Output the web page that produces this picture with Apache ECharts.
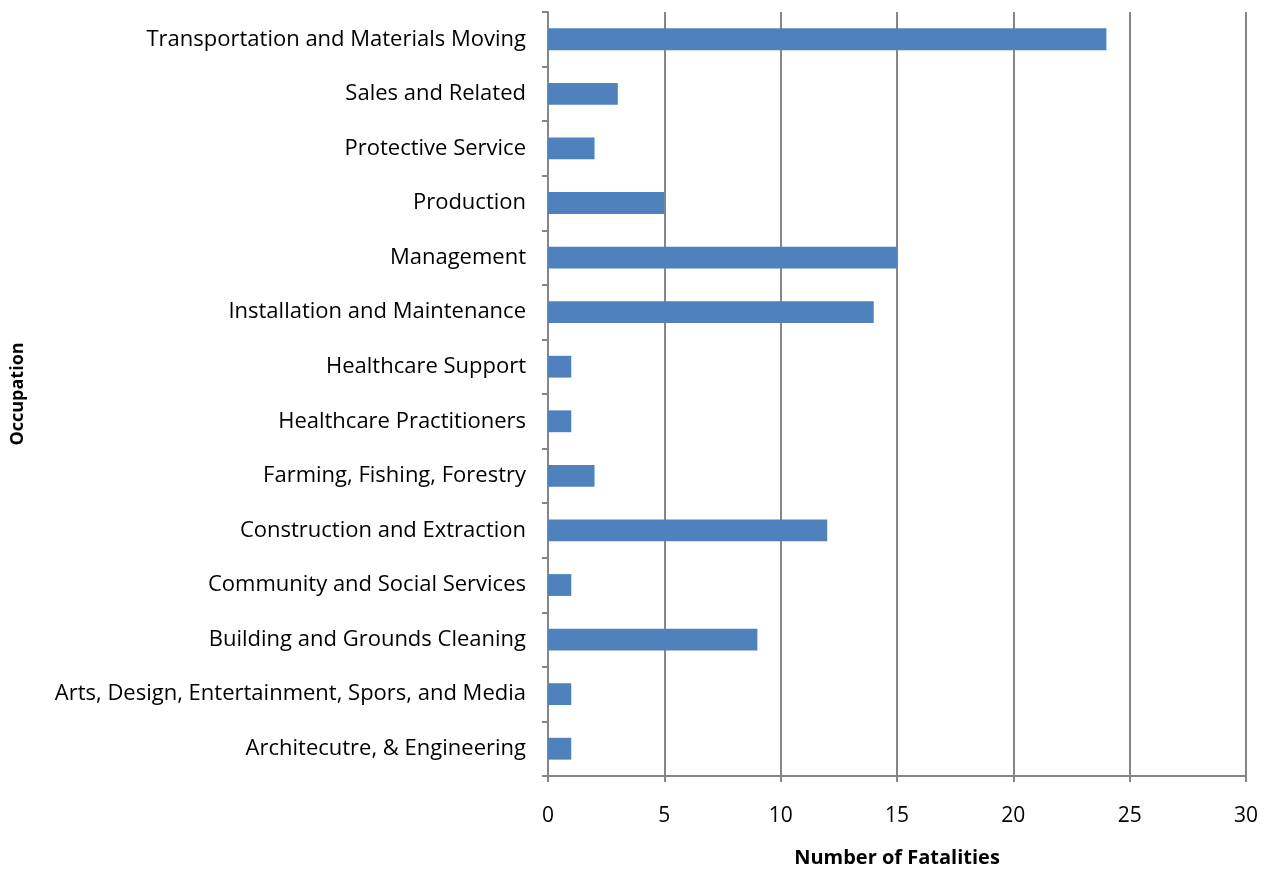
<!DOCTYPE html>
<html><head><meta charset="utf-8">
<script src="https://cdn.jsdelivr.net/npm/echarts@6/dist/echarts.min.js"></script>
<style>html,body{margin:0;padding:0;background:#fff}#c{width:1274px;height:871px}</style>
</head><body><div id="c"></div>
<script>
const categories = [
  "Architecutre, & Engineering",
  "Arts, Design, Entertainment, Spors, and Media",
  "Building and Grounds Cleaning",
  "Community and Social Services",
  "Construction and Extraction",
  "Farming, Fishing, Forestry",
  "Healthcare Practitioners",
  "Healthcare Support",
  "Installation and Maintenance",
  "Management",
  "Production",
  "Protective Service",
  "Sales and Related",
  "Transportation and Materials Moving"
];
const fatalities = [1, 1, 9, 1, 12, 2, 1, 1, 14, 15, 5, 2, 3, 24];
const xTicks = { min: 0, max: 30, interval: 5 };

const FONT = '"Open Sans", sans-serif';
const chart = echarts.init(document.getElementById('c'), null, {renderer: 'canvas'});
chart.setOption({
  animation: false,
  grid: { left: 548, right: 28, top: 12, bottom: 95, containLabel: false, outerBoundsMode: 'none' },
  xAxis: {
    type: 'value', min: xTicks.min, max: xTicks.max, interval: xTicks.interval,
    name: 'Number of Fatalities', nameLocation: 'middle', nameGap: 72,
    nameTextStyle: { fontFamily: FONT, fontWeight: 'bold', fontSize: 20, color: '#000' },
    axisLine: { show: true, lineStyle: { color: '#868686', width: 2 } },
    axisTick: { show: true, length: 6, lineStyle: { color: '#868686', width: 2 } },
    axisLabel: { fontFamily: FONT, fontSize: 21, color: '#000', margin: 30 },
    splitLine: { show: true, lineStyle: { color: '#868686', width: 2 } }
  },
  yAxis: {
    type: 'category', data: categories,
    name: 'Occupation', nameLocation: 'middle', nameGap: 521, nameRotate: 90,
    nameTextStyle: { fontFamily: FONT, fontWeight: 'bold', fontSize: 18, color: '#000' },
    axisLine: { show: true, lineStyle: { color: '#868686', width: 2 } },
    axisTick: { show: true, length: 6, alignWithLabel: false, lineStyle: { color: '#868686', width: 2 } },
    axisLabel: { fontFamily: FONT, fontSize: 22, color: '#000', margin: 22 },
    splitLine: { show: false }
  },
  series: [{
    type: 'bar', data: fatalities, barWidth: '40%',
    itemStyle: { color: '#4F81BD' }
  }]
});
</script></body></html>
